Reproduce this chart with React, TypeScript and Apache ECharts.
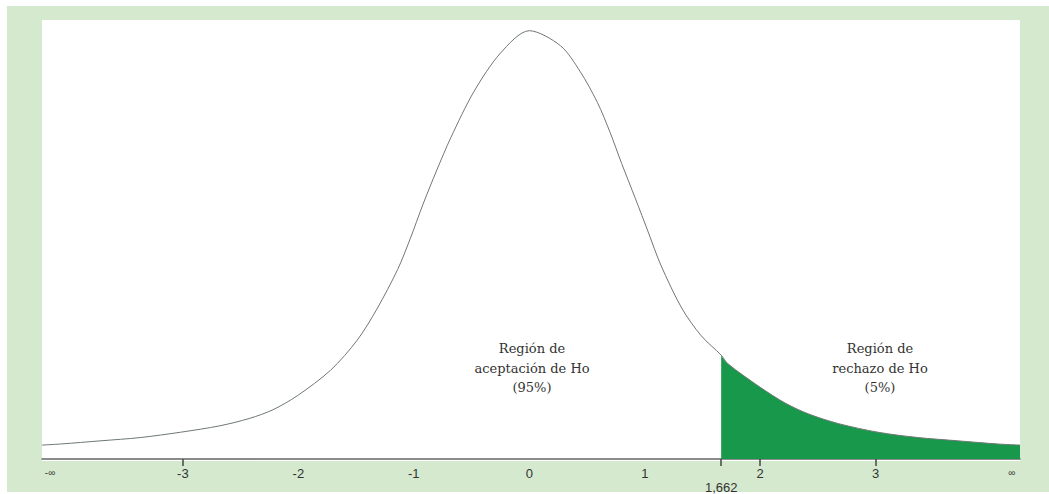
import React, { useEffect, useRef } from "react";
import * as echarts from "echarts";

const curveX = [-4.22, -4.06, -3.71, -3.37, -3.02, -2.68, -2.42, -2.22, -2.01, -1.72, -1.49, -1.32, -1.14, -1.03, -0.92, -0.8, -0.68, -0.48, -0.25, 0, 0.27, 0.44, 0.59, 0.7, 0.8, 0.92, 1.03, 1.14, 1.32, 1.49, 1.662, 1.72, 2.0, 2.22, 2.42, 2.68, 3.02, 3.37, 3.71, 4.06, 4.25];
const curveY = [0.013, 0.014, 0.017, 0.02, 0.025, 0.031, 0.038, 0.046, 0.059, 0.083, 0.111, 0.14, 0.177, 0.206, 0.238, 0.27, 0.3, 0.343, 0.379, 0.4, 0.386, 0.362, 0.333, 0.305, 0.276, 0.243, 0.212, 0.181, 0.141, 0.115, 0.097, 0.089, 0.067, 0.052, 0.042, 0.033, 0.025, 0.02, 0.017, 0.014, 0.013];

const critical = 1.662;
const tickLabelValues = [-4.15, -3, -2, -1, 0, 1, critical, 2, 3, 4.18];
const tickMarkValues = [-3, critical, 2, 3];

const acceptText = ["Región de", "aceptación de Ho", "(95%)"];
const rejectText = ["Región de", "rechazo de Ho", "(5%)"];

export default function App() {
  const ref = useRef<HTMLDivElement>(null);
  useEffect(() => {
    if (!ref.current) return;
    const chart = echarts.init(ref.current, null, { renderer: "svg" });
    const curve = curveX.map((x, i) => [x, curveY[i]]);
    const tail = curve.filter((p) => p[0] >= critical);
    chart.setOption({
      animation: false,
      backgroundColor: "#ffffff",
      grid: { left: 42, right: 29, top: 20, bottom: 33 },
      xAxis: {
        type: "value",
        min: -4.22,
        max: 4.25,
        splitLine: { show: false },
        axisLine: { show: true, onZero: false, lineStyle: { color: "#666666", width: 1.5 } },
        axisTick: { show: true, customValues: tickMarkValues, length: 7, lineStyle: { color: "#444444", width: 1.5 } },
        axisLabel: {
          customValues: tickLabelValues,
          margin: 8,
          color: "#333333",
          fontFamily: "Liberation Sans",
          fontSize: 13,
          formatter: (v: number) => {
            if (Math.abs(v - critical) < 1e-6) return "{low|1,662}";
            if (v < -4) return "{inf|-∞}";
            if (v > 4) return "{inf|∞}";
            return String(v);
          },
          rich: {
            low: { fontSize: 13, fontFamily: "Liberation Sans", color: "#333333", padding: [14, 0, 0, 0] },
            inf: { fontSize: 10, fontFamily: "Liberation Sans", color: "#444444", padding: [0, 0, 4, 0] },
          },
        },
      },
      yAxis: { type: "value", min: 0, max: 0.41, show: false, splitLine: { show: false } },
      graphic: [
        { type: "rect", z: -10, silent: true, shape: { x: 7, y: 6, width: 1042, height: 486 }, style: { fill: "#d5e9cf" } },
        { type: "rect", z: -9, silent: true, shape: { x: 42, y: 20, width: 978, height: 441 }, style: { fill: "#ffffff" } },
        {
          type: "text", z: 10, x: 532, y: 368,
          style: { text: acceptText.join("\n"), textAlign: "center", textVerticalAlign: "middle", font: '13px "DejaVu Serif"', lineHeight: 19.5, fill: "#333333" },
        },
        {
          type: "text", z: 10, x: 880, y: 368,
          style: { text: rejectText.join("\n"), textAlign: "center", textVerticalAlign: "middle", font: '13px "DejaVu Serif"', lineHeight: 19.5, fill: "#333333" },
        },
      ],
      series: [
        {
          type: "line",
          data: tail,
          smooth: 0.3,
          symbol: "none",
          lineStyle: { width: 0 },
          areaStyle: { color: "#17984a", opacity: 1, origin: "start" },
          z: 2,
        },
        {
          type: "line",
          data: curve,
          smooth: 0.3,
          symbol: "none",
          lineStyle: { color: "#6e7874", width: 1 },
          z: 3,
        },
      ],
    });
    return () => chart.dispose();
  }, []);
  return <div ref={ref} style={{ position: "absolute", left: 0, top: 0, width: 1049, height: 494 }} />;
}
